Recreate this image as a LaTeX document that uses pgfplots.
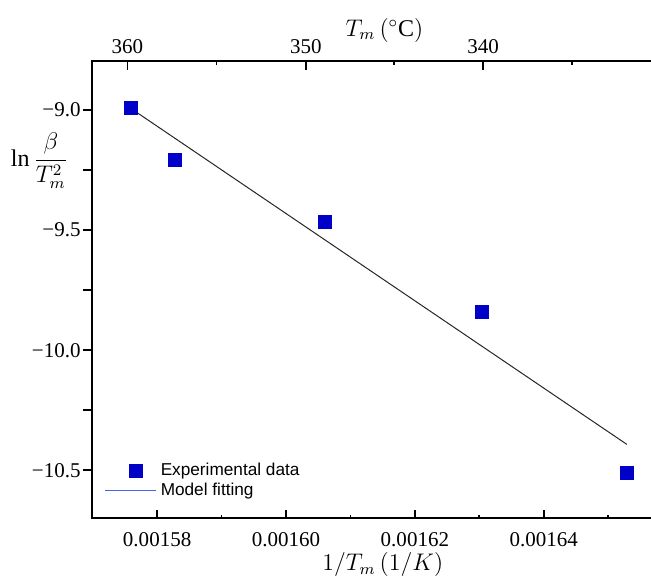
\documentclass[border=0pt]{standalone}
\usepackage{fontspec}
\setmainfont{Liberation Serif}
\newfontfamily\legendfont{Liberation Sans}
\usepackage{pgfplots}
\pgfplotsset{compat=1.18}
\definecolor{datablue}{RGB}{0,0,200}
\definecolor{fitblue}{RGB}{70,100,230}
\pgfplotsset{
  markleg/.style={legend image code/.code={\path (0pt,0pt) (25.5pt,0pt); \draw[##1] plot coordinates {(15.5pt,0pt)};}},
  lineleg/.style={legend image code/.code={\draw[fitblue, line width=0.6pt] (0pt,0pt) -- (25.5pt,0pt);}},
  common/.style={
    scale only axis, width=279.6pt, height=228.65pt,
    xmin=0.00156995, xmax=0.0016568, ymin=-10.7, ymax=-8.795,
    scaled x ticks=false, scaled y ticks=false,
    axis line style={line width=0.9pt},
    tick style={line width=0.9pt, black},
    tick label style={font=\fontsize{10.5}{12}\selectfont},
    clip=false,
  },
}

\begin{document}
\begin{tikzpicture}
% frame and y axis
\begin{axis}[common, name=main,
  xtick=\empty,
  ytick={-10.5,-10,-9.5,-9},
  yticklabels={−10.5,−10.0,−9.5,−9.0},
  minor ytick={-10.25,-9.75,-9.25},
  ytick pos=left, tick align=outside,
  major tick length=4.7pt, minor tick length=4.7pt,
  yticklabel style={inner xsep=1pt},
  ylabel={$\displaystyle\ln\frac{\beta}{T_m^2}$},
  every axis y label/.style={at={(axis description cs:-0.0945,0.781)}, anchor=center, inner sep=0pt, font=\fontsize{12}{14}\selectfont},
]
\end{axis}
% bottom x axis with the data
\begin{axis}[common,
  axis x line*=bottom, axis y line=none,
  xtick={0.00158,0.00160,0.00162,0.00164},
  xticklabels={0.00158,0.00160,0.00162,0.00164},
  minor xtick={0.00159,0.00161,0.00163,0.00165},
  tick align=inside,
  major tick length=4pt, minor tick length=1.8pt,
  xticklabel style={yshift=-3.5pt},
  xlabel={$1/T_m\,(1/K)$},
  every axis x label/.style={at={(axis description cs:0.519,0)}, anchor=center, yshift=-23pt, font=\fontsize{12}{14}\selectfont},
  legend style={at={(axis description cs:0.021,0.13)}, anchor=north west, draw=none, fill=none,
    font=\legendfont\fontsize{8.6}{10}\selectfont, inner sep=0pt, row sep=-2pt, cells={anchor=west}},
]
\addplot[only marks, mark=square*, mark size=3.25pt, color=datablue, markleg]
  coordinates {
  (0.0015760,-8.993)
  (0.0015828,-9.208)
  (0.0016060,-9.467)
  (0.0016304,-9.842)
  (0.0016529,-10.511)
};
\addlegendentry{Experimental data}
\addplot[black!85, line width=0.5pt, forget plot] coordinates {
  (0.0015765,-9.004)
  (0.0016529,-10.392)
};
\addlegendimage{fitblue, line width=0.6pt, lineleg}
\addlegendentry{Model fitting}
\end{axis}
% top x axis in degrees Celsius
\begin{axis}[common,
  axis x line*=top, axis y line=none,
  xtick={0.0015754,0.0016031,0.0016306},
  xticklabels={360,350,340},
  minor xtick={0.0015892,0.0016168,0.0016444},
  tick align=inside,
  major tick length=4.5pt, minor tick length=2pt,
  xlabel={$T_m\,(^{\circ}\mathrm{C})$},
  every axis x label/.style={at={(axis description cs:0.522,1)}, anchor=center, yshift=15.35pt, font=\fontsize{12}{14}\selectfont},
]
\end{axis}
\pgfresetboundingbox
\path ([xshift=-46.15pt,yshift=-28.5pt]main.south west) rectangle ([xshift=-0.5pt,yshift=30.35pt]main.north east);
\end{tikzpicture}
\end{document}
